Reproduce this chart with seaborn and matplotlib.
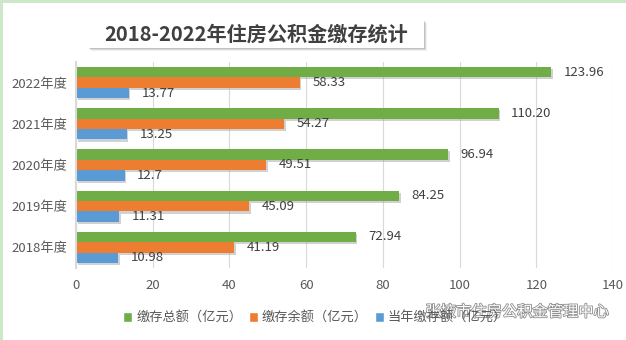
import matplotlib
matplotlib.use("Agg")
import matplotlib.pyplot as plt
import matplotlib.patheffects as pe
from matplotlib.patches import Rectangle
import seaborn as sns
import pandas as pd

years = ["2022年度", "2021年度", "2020年度", "2019年度", "2018年度"]
total = [123.96, 110.20, 96.94, 84.25, 72.94]
balance = [58.33, 54.27, 49.51, 45.09, 41.19]
annual = [13.77, 13.25, 12.7, 11.31, 10.98]
total_lbl = ["123.96", "110.20", "96.94", "84.25", "72.94"]
balance_lbl = ["58.33", "54.27", "49.51", "45.09", "41.19"]
annual_lbl = ["13.77", "13.25", "12.7", "11.31", "10.98"]
series = ["缴存总额（亿元）", "缴存余额（亿元）", "当年缴存额（亿元）"]
colors = ["#70AD47", "#ED7D31", "#5B9BD5"]
title = "2018-2022年住房公积金缴存统计"
watermark = "张掖市住房公积金管理中心"

rows = []
for vals, s in zip([total, balance, annual], series):
    for y, v in zip(years, vals):
        rows.append({"year": y, "series": s, "value": v})
df = pd.DataFrame(rows)

sns.set_theme(style="white")
plt.rcParams["font.family"] = ["Noto Sans CJK SC", "DejaVu Sans"]

fig = plt.figure(figsize=(6.26, 3.40), dpi=100)
ax = fig.add_axes([76/626, 1-268/340, (613-76)/626, (268-62)/340])

sns.barplot(data=df, y="year", x="value", hue="series", order=years,
            hue_order=series, palette=colors, width=0.76, orient="h",
            ax=ax, legend=True, saturation=1)

shadow = [pe.SimplePatchShadow(offset=(1.2, -1.5), shadow_rgbFace="#9A9A9A", alpha=0.45), pe.Normal()]
labels_all = [total_lbl, balance_lbl, annual_lbl]
for cont, lbls in zip(ax.containers, labels_all):
    for bar in cont:
        bar.set_path_effects(shadow)
        bar.set_edgecolor("none")
    ax.bar_label(cont, labels=lbls, padding=9, fontsize=9.5, color="#404040")

ax.set_xlim(0, 140)
ax.set_xticks(range(0, 141, 20))
ax.set_ylim(len(years) - 0.5, -0.5)
ax.set_xlabel("")
ax.set_ylabel("")
ax.grid(axis="x", color="#D9D9D9", linewidth=0.8)
ax.set_axisbelow(True)
for s in ["top", "right", "bottom"]:
    ax.spines[s].set_visible(False)
ax.spines["left"].set_color("#D9D9D9")
ax.spines["left"].set_linewidth(1.5)
ax.tick_params(axis="both", length=0, labelsize=9.5, labelcolor="#595959")
ax.tick_params(axis="x", pad=8)
ax.tick_params(axis="y", pad=6)

handles, labs = ax.get_legend_handles_labels()
ax.get_legend().remove()
fig.legend(handles, labs, loc="center", bbox_to_anchor=(315/626, 1-318/340), ncol=3,
           frameon=False, fontsize=9.5, handlelength=0.7, handleheight=0.7,
           handletextpad=0.3, columnspacing=0.5, labelcolor="#595959")

# title box with soft shadow
for i, a in enumerate([0.12, 0.18, 0.28]):
    d = 3 - i
    fig.patches.append(Rectangle(((88 + d)/626, 1-(48 + d)/340), 336/626, 28/340,
                                 transform=fig.transFigure, facecolor="#808080",
                                 edgecolor="none", alpha=a, zorder=1))
fig.patches.append(Rectangle((88/626, 1-48/340), 336/626, 28/340, transform=fig.transFigure,
                             facecolor="white", edgecolor="none", zorder=2))
fig.text(256/626, 1-34/340, title, ha="center", va="center", fontsize=14.5,
         fontweight="bold", color="#404040", zorder=3)

# watermark
fig.text(517/626, 1-312/340, watermark, ha="center", va="center", fontsize=11,
         color="white", zorder=5,
         path_effects=[pe.withStroke(linewidth=1.2, foreground="#8C8C8C")])

# light green frame
fig.patches.append(Rectangle((0, 0), 2.5/626, 1, transform=fig.transFigure,
                             facecolor="#CDE8C8", edgecolor="none"))
fig.patches.append(Rectangle((0, 1-3/340), 1, 3/340, transform=fig.transFigure,
                             facecolor="#CDE8C8", edgecolor="none"))

fig.savefig("out.png", dpi=100)
